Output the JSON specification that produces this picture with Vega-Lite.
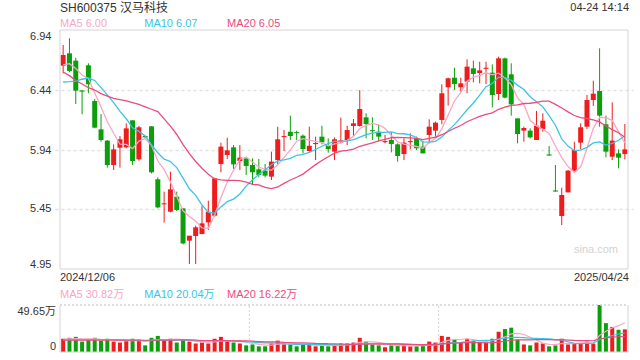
{
"$schema": "https://vega.github.io/schema/vega-lite/v6.json",
"width": 578, "height": 322,
"autosize": {"type": "none"},
"padding": {"left": 55, "top": 30, "right": 7, "bottom": 8},
"background": "#ffffff",
"config": {"view": {"stroke": null}, "font": "Liberation Sans, Noto Sans CJK SC"},
"datasets": {"k": [
{"i":0,"o":6.643,"h":6.815,"l":6.579,"c":6.732,"v":14,"m5":6.65,"m10":6.507,"m20":6.59,"v5":13.5,"v10":12.8,"v20":12.4},
{"i":1,"o":6.746,"h":6.871,"l":6.588,"c":6.599,"v":15,"m5":6.66,"m10":6.51,"m20":6.56,"v5":13.8,"v10":12.9,"v20":12.4},
{"i":2,"o":6.685,"h":6.71,"l":6.324,"c":6.435,"v":16,"m5":6.62,"m10":6.515,"m20":6.52,"v5":14.2,"v10":13.0,"v20":12.4},
{"i":3,"o":6.437,"h":6.437,"l":6.238,"c":6.427,"v":11,"m5":6.565,"m10":6.53,"m20":6.49,"v5":14.0,"v10":13.0,"v20":12.4},
{"i":4,"o":6.646,"h":6.663,"l":6.413,"c":6.488,"v":13,"m5":6.536,"m10":6.54,"m20":6.46,"v5":13.8,"v10":13.1,"v20":12.4},
{"i":5,"o":6.349,"h":6.366,"l":6.121,"c":6.127,"v":15,"m5":6.415,"m10":6.52,"m20":6.44,"v5":14.0,"v10":13.2,"v20":12.4},
{"i":6,"o":6.113,"h":6.241,"l":6.01,"c":6.024,"v":12,"m5":6.3,"m10":6.46,"m20":6.41,"v5":13.4,"v10":13.2,"v20":12.4},
{"i":7,"o":6.019,"h":6.024,"l":5.794,"c":5.816,"v":14,"m5":6.176,"m10":6.4,"m20":6.39,"v5":13.0,"v10":13.2,"v20":12.4},
{"i":8,"o":5.816,"h":5.988,"l":5.774,"c":5.946,"v":11,"m5":6.08,"m10":6.335,"m20":6.37,"v5":13.0,"v10":13.1,"v20":12.4},
{"i":9,"o":5.96,"h":6.057,"l":5.794,"c":6.03,"v":10,"m5":5.989,"m10":6.262,"m20":6.36,"v5":12.4,"v10":13.1,"v20":12.4},
{"i":10,"o":5.963,"h":6.163,"l":5.955,"c":6.121,"v":12,"m5":5.987,"m10":6.201,"m20":6.35,"v5":11.8,"v10":12.9,"v20":12.4},
{"i":11,"o":6.188,"h":6.188,"l":5.816,"c":5.849,"v":14,"m5":5.952,"m10":6.126,"m20":6.335,"v5":12.2,"v10":12.8,"v20":12.4},
{"i":12,"o":5.863,"h":6.141,"l":5.852,"c":6.13,"v":13,"m5":6.015,"m10":6.096,"m20":6.32,"v5":12.0,"v10":12.5,"v20":12.4},
{"i":13,"o":6.057,"h":6.06,"l":6.043,"c":6.046,"v":7,"m5":6.035,"m10":6.058,"m20":6.3,"v5":11.2,"v10":12.1,"v20":12.4},
{"i":14,"o":6.138,"h":6.138,"l":5.746,"c":5.755,"v":15,"m5":5.98,"m10":5.984,"m20":6.28,"v5":12.2,"v10":12.3,"v20":12.4},
{"i":15,"o":5.697,"h":5.713,"l":5.455,"c":5.463,"v":17,"m5":5.849,"m10":5.918,"m20":6.26,"v5":13.2,"v10":12.5,"v20":12.5},
{"i":16,"o":5.488,"h":5.594,"l":5.336,"c":5.497,"v":12,"m5":5.777,"m10":5.865,"m20":6.2,"v5":12.8,"v10":12.5,"v20":12.5},
{"i":17,"o":5.427,"h":5.76,"l":5.422,"c":5.613,"v":14,"m5":5.674,"m10":5.845,"m20":6.14,"v5":13.0,"v10":12.5,"v20":12.6},
{"i":18,"o":5.552,"h":5.594,"l":5.433,"c":5.441,"v":10,"m5":5.553,"m10":5.794,"m20":6.07,"v5":13.6,"v10":12.4,"v20":12.7},
{"i":19,"o":5.455,"h":5.455,"l":5.155,"c":5.163,"v":13,"m5":5.435,"m10":5.707,"m20":5.985,"v5":13.2,"v10":12.7,"v20":12.9},
{"i":20,"o":5.186,"h":5.227,"l":4.991,"c":5.227,"v":11,"m5":5.387,"m10":5.618,"m20":5.91,"v5":12.0,"v10":12.6,"v20":12.75},
{"i":21,"o":5.225,"h":5.311,"l":4.991,"c":5.297,"v":9,"m5":5.348,"m10":5.563,"m20":5.845,"v5":11.4,"v10":12.1,"v20":12.45},
{"i":22,"o":5.241,"h":5.474,"l":5.241,"c":5.33,"v":10,"m5":5.292,"m10":5.483,"m20":5.789,"v5":10.6,"v10":11.8,"v20":12.15},
{"i":23,"o":5.338,"h":5.519,"l":5.275,"c":5.427,"v":9,"m5":5.289,"m10":5.421,"m20":5.739,"v5":10.4,"v10":12.0,"v20":12.05},
{"i":24,"o":5.394,"h":5.71,"l":5.386,"c":5.705,"v":14,"m5":5.397,"m10":5.416,"m20":5.7,"v5":10.6,"v10":11.9,"v20":12.1},
{"i":25,"o":5.824,"h":6.002,"l":5.755,"c":5.969,"v":16,"m5":5.546,"m10":5.467,"m20":5.692,"v5":11.6,"v10":11.8,"v20":12.15},
{"i":26,"o":5.899,"h":6.043,"l":5.866,"c":5.938,"v":11,"m5":5.674,"m10":5.511,"m20":5.688,"v5":12.0,"v10":11.7,"v20":12.1},
{"i":27,"o":5.963,"h":5.982,"l":5.783,"c":5.821,"v":10,"m5":5.772,"m10":5.532,"m20":5.688,"v5":12.0,"v10":11.3,"v20":11.9},
{"i":28,"o":5.849,"h":5.982,"l":5.774,"c":5.877,"v":9,"m5":5.862,"m10":5.575,"m20":5.685,"v5":12.0,"v10":11.2,"v20":11.8},
{"i":29,"o":5.871,"h":5.871,"l":5.733,"c":5.808,"v":7,"m5":5.883,"m10":5.64,"m20":5.674,"v5":10.6,"v10":10.6,"v20":11.65},
{"i":30,"o":5.816,"h":5.871,"l":5.649,"c":5.755,"v":8,"m5":5.84,"m10":5.693,"m20":5.655,"v5":9.0,"v10":10.3,"v20":11.45},
{"i":31,"o":5.78,"h":5.866,"l":5.713,"c":5.733,"v":6,"m5":5.799,"m10":5.736,"m20":5.65,"v5":8.0,"v10":10.0,"v20":11.05},
{"i":32,"o":5.769,"h":5.824,"l":5.713,"c":5.727,"v":6,"m5":5.78,"m10":5.776,"m20":5.629,"v5":7.2,"v10":9.6,"v20":10.7},
{"i":33,"o":5.719,"h":5.927,"l":5.691,"c":5.844,"v":9,"m5":5.773,"m10":5.818,"m20":5.619,"v5":7.2,"v10":9.6,"v20":10.8},
{"i":34,"o":5.857,"h":6.135,"l":5.821,"c":6.03,"v":12,"m5":5.818,"m10":5.85,"m20":5.633,"v5":8.2,"v10":9.4,"v20":10.65},
{"i":35,"o":6.048,"h":6.107,"l":5.932,"c":6.057,"v":9,"m5":5.878,"m10":5.859,"m20":5.663,"v5":8.4,"v10":8.7,"v20":10.25},
{"i":36,"o":6.093,"h":6.227,"l":6.024,"c":6.057,"v":8,"m5":5.942,"m10":5.871,"m20":5.691,"v5":8.8,"v10":8.4,"v20":10.05},
{"i":37,"o":6.09,"h":6.102,"l":6.024,"c":6.081,"v":6,"m5":6.014,"m10":5.897,"m20":5.714,"v5":8.8,"v10":8.0,"v20":9.65},
{"i":38,"o":6.06,"h":6.071,"l":5.913,"c":5.949,"v":8,"m5":6.035,"m10":5.904,"m20":5.74,"v5":8.6,"v10":7.9,"v20":9.55},
{"i":39,"o":5.932,"h":6.135,"l":5.927,"c":5.977,"v":8,"m5":6.024,"m10":5.921,"m20":5.78,"v5":7.8,"v10":8.0,"v20":9.3},
{"i":40,"o":5.99,"h":6.052,"l":5.857,"c":5.999,"v":6,"m5":6.012,"m10":5.945,"m20":5.819,"v5":7.2,"v10":7.8,"v20":9.05},
{"i":41,"o":6.052,"h":6.143,"l":5.988,"c":6.005,"v":7,"m5":6.002,"m10":5.972,"m20":5.854,"v5":7.0,"v10":7.9,"v20":8.95},
{"i":42,"o":5.982,"h":6.038,"l":5.919,"c":5.949,"v":6,"m5":5.975,"m10":5.994,"m20":5.885,"v5":7.0,"v10":7.9,"v20":8.75},
{"i":43,"o":5.927,"h":6.046,"l":5.857,"c":6.03,"v":8,"m5":5.991,"m10":6.013,"m20":5.915,"v5":7.0,"v10":7.8,"v20":8.7},
{"i":44,"o":6.005,"h":6.21,"l":5.996,"c":6.02,"v":9,"m5":6.0,"m10":6.012,"m20":5.931,"v5":7.2,"v10":7.5,"v20":8.45},
{"i":45,"o":6.024,"h":6.143,"l":5.982,"c":6.107,"v":9,"m5":6.022,"m10":6.017,"m20":5.938,"v5":7.8,"v10":7.5,"v20":8.1},
{"i":46,"o":6.141,"h":6.199,"l":6.052,"c":6.163,"v":10,"m5":6.054,"m10":6.028,"m20":5.949,"v5":8.4,"v10":7.7,"v20":8.05},
{"i":47,"o":6.141,"h":6.44,"l":6.135,"c":6.282,"v":15,"m5":6.12,"m10":6.048,"m20":5.972,"v5":10.2,"v10":8.6,"v20":8.3},
{"i":48,"o":6.213,"h":6.246,"l":6.038,"c":6.157,"v":11,"m5":6.146,"m10":6.069,"m20":5.986,"v5":10.8,"v10":8.9,"v20":8.4},
{"i":49,"o":6.106,"h":6.213,"l":6.024,"c":6.097,"v":8,"m5":6.162,"m10":6.081,"m20":6.001,"v5":10.6,"v10":8.9,"v20":8.45},
{"i":50,"o":6.093,"h":6.149,"l":6.016,"c":6.052,"v":7,"m5":6.151,"m10":6.087,"m20":6.016,"v5":10.2,"v10":9.0,"v20":8.4},
{"i":51,"o":6.006,"h":6.066,"l":5.996,"c":6.015,"v":5,"m5":6.121,"m10":6.087,"m20":6.03,"v5":9.2,"v10":8.8,"v20":8.35},
{"i":52,"o":6.024,"h":6.088,"l":5.921,"c":5.991,"v":7,"m5":6.062,"m10":6.091,"m20":6.043,"v5":7.6,"v10":8.9,"v20":8.4},
{"i":53,"o":5.988,"h":5.996,"l":5.844,"c":5.891,"v":7,"m5":6.009,"m10":6.078,"m20":6.045,"v5":6.8,"v10":8.8,"v20":8.3},
{"i":54,"o":5.907,"h":6.038,"l":5.857,"c":6.002,"v":7,"m5":5.99,"m10":6.076,"m20":6.044,"v5":6.6,"v10":8.6,"v20":8.05},
{"i":55,"o":6.006,"h":6.08,"l":5.946,"c":6.015,"v":6,"m5":5.982,"m10":6.066,"m20":6.042,"v5":6.4,"v10":8.3,"v20":7.9},
{"i":56,"o":6.038,"h":6.052,"l":5.941,"c":5.955,"v":6,"m5":5.97,"m10":6.045,"m20":6.037,"v5":6.6,"v10":7.9,"v20":7.8},
{"i":57,"o":5.969,"h":6.016,"l":5.913,"c":5.913,"v":7,"m5":5.955,"m10":6.009,"m20":6.028,"v5":6.6,"v10":7.1,"v20":7.85},
{"i":58,"o":6.066,"h":6.196,"l":5.996,"c":6.135,"v":11,"m5":6.003,"m10":6.006,"m20":6.037,"v5":7.4,"v10":7.1,"v20":8.0},
{"i":59,"o":6.102,"h":6.177,"l":6.052,"c":6.168,"v":10,"m5":6.037,"m10":6.013,"m20":6.047,"v5":8.0,"v10":7.3,"v20":8.1},
{"i":60,"o":6.191,"h":6.488,"l":6.155,"c":6.413,"v":17,"m5":6.117,"m10":6.049,"m20":6.068,"v5":10.2,"v10":8.3,"v20":8.65},
{"i":61,"o":6.463,"h":6.543,"l":6.31,"c":6.538,"v":16,"m5":6.233,"m10":6.102,"m20":6.095,"v5":12.2,"v10":9.4,"v20":9.1},
{"i":62,"o":6.543,"h":6.626,"l":6.44,"c":6.49,"v":13,"m5":6.349,"m10":6.152,"m20":6.122,"v5":13.4,"v10":10.0,"v20":9.45},
{"i":63,"o":6.463,"h":6.543,"l":6.427,"c":6.496,"v":10,"m5":6.421,"m10":6.212,"m20":6.145,"v5":13.2,"v10":10.3,"v20":9.55},
{"i":64,"o":6.51,"h":6.696,"l":6.413,"c":6.635,"v":14,"m5":6.514,"m10":6.276,"m20":6.176,"v5":14.0,"v10":11.0,"v20":9.8},
{"i":65,"o":6.621,"h":6.685,"l":6.504,"c":6.574,"v":12,"m5":6.547,"m10":6.332,"m20":6.199,"v5":13.0,"v10":11.6,"v20":9.95},
{"i":66,"o":6.582,"h":6.676,"l":6.496,"c":6.604,"v":10,"m5":6.56,"m10":6.397,"m20":6.221,"v5":11.8,"v10":12.0,"v20":9.95},
{"i":67,"o":6.617,"h":6.676,"l":6.49,"c":6.626,"v":10,"m5":6.586,"m10":6.468,"m20":6.238,"v5":11.2,"v10":12.3,"v20":9.7},
{"i":68,"o":6.585,"h":6.654,"l":6.296,"c":6.399,"v":14,"m5":6.567,"m10":6.494,"m20":6.25,"v5":12.0,"v10":12.6,"v20":9.85},
{"i":69,"o":6.407,"h":6.718,"l":6.357,"c":6.704,"v":21.4,"m5":6.581,"m10":6.548,"m20":6.28,"v5":13.48,"v10":13.74,"v20":10.52},
{"i":70,"o":6.704,"h":6.71,"l":6.371,"c":6.377,"v":24.2,"m5":6.541,"m10":6.544,"m20":6.297,"v5":15.92,"v10":14.46,"v20":11.38},
{"i":71,"o":6.571,"h":6.663,"l":6.227,"c":6.321,"v":25.7,"m5":6.485,"m10":6.522,"m20":6.312,"v5":19.06,"v10":15.43,"v20":12.42},
{"i":72,"o":6.204,"h":6.204,"l":5.996,"c":6.074,"v":13,"m5":6.375,"m10":6.481,"m20":6.316,"v5":19.66,"v10":15.43,"v20":12.72},
{"i":73,"o":6.102,"h":6.135,"l":6.01,"c":6.124,"v":8,"m5":6.32,"m10":6.444,"m20":6.328,"v5":18.46,"v10":15.23,"v20":12.77},
{"i":74,"o":6.102,"h":6.121,"l":6.038,"c":6.046,"v":7,"m5":6.188,"m10":6.385,"m20":6.33,"v5":15.58,"v10":14.53,"v20":12.77},
{"i":75,"o":6.024,"h":6.266,"l":6.024,"c":6.143,"v":10,"m5":6.142,"m10":6.342,"m20":6.337,"v5":12.74,"v10":14.33,"v20":12.97},
{"i":76,"o":6.116,"h":6.246,"l":6.093,"c":6.185,"v":9,"m5":6.114,"m10":6.3,"m20":6.348,"v5":9.4,"v10":14.23,"v20":13.12},
{"i":77,"o":5.904,"h":5.974,"l":5.891,"c":5.895,"v":6,"m5":6.079,"m10":6.227,"m20":6.347,"v5":8.0,"v10":13.83,"v20":13.07},
{"i":78,"o":5.604,"h":5.816,"l":5.594,"c":5.595,"v":7,"m5":5.974,"m10":6.147,"m20":6.321,"v5":7.8,"v10":13.13,"v20":12.87},
{"i":79,"o":5.391,"h":5.627,"l":5.316,"c":5.566,"v":14,"m5":5.878,"m10":6.033,"m20":6.29,"v5":9.2,"v10":12.39,"v20":13.07},
{"i":80,"o":5.588,"h":5.774,"l":5.588,"c":5.769,"v":8,"m5":5.803,"m10":5.973,"m20":6.258,"v5":8.8,"v10":10.77,"v20":12.62},
{"i":81,"o":5.766,"h":6.01,"l":5.755,"c":5.941,"v":9,"m5":5.755,"m10":5.935,"m20":6.228,"v5":8.8,"v10":9.1,"v20":12.27},
{"i":82,"o":6.002,"h":6.163,"l":5.946,"c":6.13,"v":9.5,"m5":5.801,"m10":5.94,"m20":6.21,"v5":9.5,"v10":8.75,"v20":12.09},
{"i":83,"o":6.135,"h":6.399,"l":6.116,"c":6.357,"v":11,"m5":5.953,"m10":5.963,"m20":6.203,"v5":10.3,"v10":9.05,"v20":12.14},
{"i":84,"o":6.357,"h":6.518,"l":6.307,"c":6.41,"v":8.85,"m5":6.121,"m10":6.0,"m20":6.192,"v5":9.27,"v10":9.24,"v20":11.88},
{"i":85,"o":6.432,"h":6.787,"l":6.135,"c":6.227,"v":49.65,"m5":6.213,"m10":6.008,"m20":6.175,"v5":17.6,"v10":13.2,"v20":13.77},
{"i":86,"o":6.155,"h":6.227,"l":5.88,"c":5.927,"v":30.5,"m5":6.21,"m10":5.982,"m20":6.141,"v5":21.9,"v10":15.35,"v20":14.79},
{"i":87,"o":5.885,"h":6.338,"l":5.857,"c":6.019,"v":26.5,"m5":6.188,"m10":5.995,"m20":6.111,"v5":25.3,"v10":17.4,"v20":15.62},
{"i":88,"o":5.913,"h":5.946,"l":5.788,"c":5.877,"v":23.5,"m5":6.092,"m10":6.022,"m20":6.085,"v5":27.8,"v10":19.05,"v20":16.09},
{"i":89,"o":5.907,"h":6.157,"l":5.863,"c":5.946,"v":23.9,"m5":5.999,"m10":6.06,"m20":6.047,"v5":30.82,"v10":20.04,"v20":16.22}
],
"one": [{"n": 1}]},
"layer": [
{"layer": [
 {"data": {"name": "k"}, "mark": {"type": "rule", "strokeWidth": 1},
  "encoding": {
   "x": {"field": "i", "type": "quantitative", "scale": {"domain": [-0.5, 89.5], "nice": false, "zero": false}, "axis": null},
   "y": {"field": "l", "type": "quantitative", "scale": {"domain": [4.95, 6.94], "range": [239, 0], "nice": false, "zero": false},
     "axis": {"values": [4.95, 5.45, 5.94, 6.44, 6.94], "format": ".2f", "labelFlush": true, "labelFlushOffset": 0, "ticks": false, "domain": false, "labelPadding": 4, "labelFontSize": 11, "labelColor": "#333333", "labelFont": "Liberation Sans", "title": null, "gridColor": "#e2e2e2", "gridDash": [3, 3], "gridWidth": 1.5, "gridOpacity": {"condition": {"test": "datum.value > 6.93 || datum.value < 4.96", "value": 0}, "value": 1}}},
   "y2": {"field": "h"},
   "color": {"condition": {"test": "datum.c >= datum.o", "value": "#ee1c1c"}, "value": "#0c9f0c"}}},
 {"data": {"name": "k"}, "mark": {"type": "bar", "size": 5},
  "encoding": {
   "x": {"field": "i", "type": "quantitative", "axis": null},
   "y": {"field": "o", "type": "quantitative"},
   "y2": {"field": "c"},
   "color": {"condition": {"test": "datum.c >= datum.o", "value": "#ee1c1c"}, "value": "#0c9f0c"}}},
 {"data": {"name": "k"}, "mark": {"type": "line", "color": "#f8a7c4", "strokeWidth": 1.3},
  "encoding": {"x": {"field": "i", "type": "quantitative", "axis": null}, "y": {"field": "m5", "type": "quantitative"}}},
 {"data": {"name": "k"}, "mark": {"type": "line", "color": "#3cc4e2", "strokeWidth": 1.3},
  "encoding": {"x": {"field": "i", "type": "quantitative", "axis": null}, "y": {"field": "m10", "type": "quantitative"}}},
 {"data": {"name": "k"}, "mark": {"type": "line", "color": "#ec4b7e", "strokeWidth": 1.3},
  "encoding": {"x": {"field": "i", "type": "quantitative", "axis": null}, "y": {"field": "m20", "type": "quantitative"}}},
 {"data": {"name": "one"}, "mark": {"type": "rule", "color": "#d4d4d4"},
  "encoding": {"x": {"datum": -0.5, "type": "quantitative", "axis": null}, "x2": {"datum": 89.5}, "y": {"datum": 6.94, "type": "quantitative"}}},
 {"data": {"name": "one"}, "mark": {"type": "rule", "color": "#d4d4d4"},
  "encoding": {"x": {"datum": -0.5, "type": "quantitative", "axis": null}, "x2": {"datum": 89.5}, "y": {"datum": 4.95, "type": "quantitative"}}},
 {"data": {"name": "one"}, "mark": {"type": "rule", "color": "#d4d4d4"},
  "encoding": {"x": {"datum": -0.5, "type": "quantitative", "axis": null}, "y": {"datum": 4.95, "type": "quantitative"}, "y2": {"datum": 6.94}}},
 {"data": {"name": "one"}, "mark": {"type": "rule", "color": "#d4d4d4"},
  "encoding": {"x": {"datum": 89.5, "type": "quantitative", "axis": null}, "y": {"datum": 4.95, "type": "quantitative"}, "y2": {"datum": 6.94}}},
 {"data": {"name": "one"}, "mark": {"type": "text", "text": "SH600375 汉马科技", "align": "left", "baseline": "middle", "fontSize": 12, "color": "#333333", "dy": -22.5},
  "encoding": {"x": {"datum": -0.5, "type": "quantitative", "axis": null}, "y": {"datum": 6.94, "type": "quantitative"}}},
 {"data": {"name": "one"}, "mark": {"type": "text", "text": "04-24 14:14", "align": "right", "baseline": "middle", "fontSize": 11, "color": "#333333", "dy": -22.5, "dx": 1},
  "encoding": {"x": {"datum": 89.5, "type": "quantitative", "axis": null}, "y": {"datum": 6.94, "type": "quantitative"}}},
 {"data": {"name": "one"}, "mark": {"type": "text", "text": "MA5 6.00", "align": "left", "baseline": "middle", "fontSize": 11, "color": "#f8a7c4", "dy": -6},
  "encoding": {"x": {"datum": -0.5, "type": "quantitative", "axis": null}, "y": {"datum": 6.94, "type": "quantitative"}}},
 {"data": {"name": "one"}, "mark": {"type": "text", "text": "MA10 6.07", "align": "left", "baseline": "middle", "fontSize": 11, "color": "#3cc4e2", "dy": -6},
  "encoding": {"x": {"datum": 12.85, "type": "quantitative", "axis": null}, "y": {"datum": 6.94, "type": "quantitative"}}},
 {"data": {"name": "one"}, "mark": {"type": "text", "text": "MA20 6.05", "align": "left", "baseline": "middle", "fontSize": 11, "color": "#ec4b7e", "dy": -6},
  "encoding": {"x": {"datum": 25.97, "type": "quantitative", "axis": null}, "y": {"datum": 6.94, "type": "quantitative"}}},
 {"data": {"name": "one"}, "mark": {"type": "text", "text": "2024/12/06", "align": "left", "baseline": "middle", "fontSize": 11, "color": "#333333", "dy": 8.5},
  "encoding": {"x": {"datum": -0.5, "type": "quantitative", "axis": null}, "y": {"datum": 4.95, "type": "quantitative"}}},
 {"data": {"name": "one"}, "mark": {"type": "text", "text": "2025/04/24", "align": "right", "baseline": "middle", "fontSize": 11, "color": "#333333", "dy": 8.5, "dx": 1},
  "encoding": {"x": {"datum": 89.5, "type": "quantitative", "axis": null}, "y": {"datum": 4.95, "type": "quantitative"}}},
 {"data": {"name": "one"}, "mark": {"type": "text", "text": "sina.com", "align": "right", "baseline": "middle", "fontSize": 11, "color": "#d2d2d2", "dy": -19, "dx": -10},
  "encoding": {"x": {"datum": 89.5, "type": "quantitative", "axis": null}, "y": {"datum": 4.95, "type": "quantitative"}}}
]},
{"layer": [
 {"data": {"name": "k"}, "mark": {"type": "bar", "size": 4},
  "encoding": {
   "x": {"field": "i", "type": "quantitative", "axis": null},
   "y": {"field": "v", "type": "quantitative", "scale": {"domain": [0, 49.65], "range": [322, 275], "nice": false, "zero": true}, "axis": null},
   "color": {"condition": {"test": "datum.c >= datum.o", "value": "#ee1c1c"}, "value": "#0c9f0c"}}},
 {"data": {"name": "k"}, "mark": {"type": "line", "color": "#f8a7c4", "strokeWidth": 1.2},
  "encoding": {"x": {"field": "i", "type": "quantitative", "axis": null}, "y": {"field": "v5", "type": "quantitative", "axis": null}}},
 {"data": {"name": "k"}, "mark": {"type": "line", "color": "#3cc4e2", "strokeWidth": 1.2},
  "encoding": {"x": {"field": "i", "type": "quantitative", "axis": null}, "y": {"field": "v10", "type": "quantitative", "axis": null}}},
 {"data": {"name": "k"}, "mark": {"type": "line", "color": "#ec4b7e", "strokeWidth": 1.2},
  "encoding": {"x": {"field": "i", "type": "quantitative", "axis": null}, "y": {"field": "v20", "type": "quantitative", "axis": null}}},
 {"data": {"name": "one"}, "mark": {"type": "rule", "color": "#d4d4d4", "strokeDash": [2, 2], "strokeWidth": 1.5},
  "encoding": {"x": {"datum": -0.5, "type": "quantitative", "axis": null}, "x2": {"datum": 89.5}, "y": {"datum": 49.65, "type": "quantitative", "axis": null}}},
 {"data": {"name": "one"}, "mark": {"type": "rule", "color": "#d4d4d4", "strokeDash": [2, 2]},
  "encoding": {"x": {"datum": 29.5, "type": "quantitative", "axis": null}, "y": {"datum": 0, "type": "quantitative", "axis": null}, "y2": {"datum": 49.65}}},
 {"data": {"name": "one"}, "mark": {"type": "rule", "color": "#d4d4d4", "strokeDash": [2, 2]},
  "encoding": {"x": {"datum": 59.5, "type": "quantitative", "axis": null}, "y": {"datum": 0, "type": "quantitative", "axis": null}, "y2": {"datum": 49.65}}},
 {"data": {"name": "one"}, "mark": {"type": "rule", "color": "#d4d4d4"},
  "encoding": {"x": {"datum": -0.5, "type": "quantitative", "axis": null}, "y": {"datum": 0, "type": "quantitative", "axis": null}, "y2": {"datum": 49.65}}},
 {"data": {"name": "one"}, "mark": {"type": "rule", "color": "#d4d4d4"},
  "encoding": {"x": {"datum": 89.5, "type": "quantitative", "axis": null}, "y": {"datum": 0, "type": "quantitative", "axis": null}, "y2": {"datum": 49.65}}},
 {"data": {"name": "one"}, "mark": {"type": "rule", "color": "#d4d4d4"},
  "encoding": {"x": {"datum": -0.5, "type": "quantitative", "axis": null}, "x2": {"datum": 89.5}, "y": {"datum": 0, "type": "quantitative", "axis": null}}},
 {"data": {"name": "one"}, "mark": {"type": "text", "text": "49.65万", "align": "right", "baseline": "top", "fontSize": 11, "color": "#333333", "dx": -4, "dy": 1},
  "encoding": {"x": {"datum": -0.5, "type": "quantitative", "axis": null}, "y": {"datum": 49.65, "type": "quantitative", "axis": null}}},
 {"data": {"name": "one"}, "mark": {"type": "text", "text": "0", "align": "right", "baseline": "bottom", "fontSize": 11, "color": "#333333", "dx": -4},
  "encoding": {"x": {"datum": -0.5, "type": "quantitative", "axis": null}, "y": {"datum": 0, "type": "quantitative", "axis": null}}},
 {"data": {"name": "one"}, "mark": {"type": "text", "text": "MA5 30.82万", "align": "left", "baseline": "middle", "fontSize": 11, "color": "#f8a7c4", "dy": -10},
  "encoding": {"x": {"datum": -0.5, "type": "quantitative", "axis": null}, "y": {"datum": 49.65, "type": "quantitative", "axis": null}}},
 {"data": {"name": "one"}, "mark": {"type": "text", "text": "MA10 20.04万", "align": "left", "baseline": "middle", "fontSize": 11, "color": "#3cc4e2", "dy": -10},
  "encoding": {"x": {"datum": 12.85, "type": "quantitative", "axis": null}, "y": {"datum": 49.65, "type": "quantitative", "axis": null}}},
 {"data": {"name": "one"}, "mark": {"type": "text", "text": "MA20 16.22万", "align": "left", "baseline": "middle", "fontSize": 11, "color": "#ec4b7e", "dy": -10},
  "encoding": {"x": {"datum": 25.97, "type": "quantitative", "axis": null}, "y": {"datum": 49.65, "type": "quantitative", "axis": null}}}
]}
],
"resolve": {"scale": {"y": "independent"}}
}
